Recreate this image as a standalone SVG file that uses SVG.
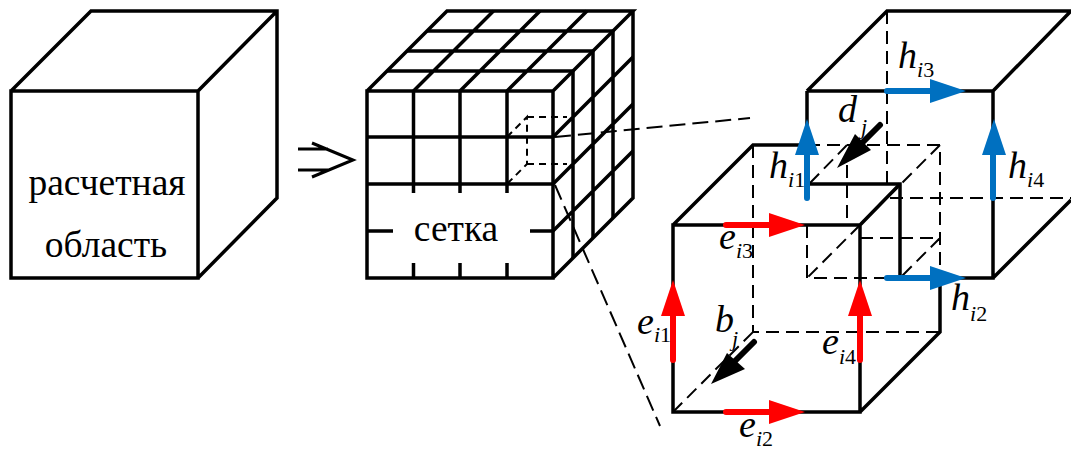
<svg xmlns="http://www.w3.org/2000/svg" width="1071" height="453" viewBox="0 0 1071 453">
<style>
.s{fill:none;stroke:#000;stroke-width:3.5;stroke-linejoin:miter;stroke-linecap:butt}
.d{fill:none;stroke:#000;stroke-width:2;stroke-dasharray:13 7}
.f{fill:none;stroke:#000;stroke-width:2;stroke-dasharray:7 5}
.l{fill:none;stroke:#000;stroke-width:2;stroke-dasharray:16 7}
.t{font-family:"Liberation Serif","Times New Roman",serif;font-size:37.500px;text-anchor:middle;fill:#000}
.i{font-family:"Liberation Serif","Times New Roman",serif;font-size:38px;font-style:italic;fill:#000}
.u{font-size:22px}
.r{fill:none;stroke:#f00;stroke-width:6;stroke-linecap:round}
.b{fill:none;stroke:#0070c0;stroke-width:6;stroke-linecap:round}
.k{fill:none;stroke:#000;stroke-width:6;stroke-linecap:round}
</style>
<g id="domain-cube">
<path class="s" d="M11 91H198V278H11ZM11 91L91 11H277V198L198 278M198 91L277 11"/>
<text class="t" x="107" y="195">расчетная</text>
<text class="t" x="106" y="257">область</text>
</g>
<g id="implies">
<path fill="none" stroke="#000" stroke-width="3" d="M298 149H328M298 170H328M312 143L353 160L312 177"/>
</g>
<g id="grid-cube">
<path class="s" d="M367 91H553V278H367ZM367 184H553M367 137H553M553 91L633 11H447L367 91M553 278L633 198V11"/>
<path class="s" d="M413.500 91V193M460 91V193M507 91V193M413.500 263V278M460 263V278M507 263V278M367 231H393M530 231H553"/>
<path class="s" d="M413.500 91L493.500 11M460 91L540 11M507 91L587 11M387 71H573M407 51H593M427 31H613"/>
<path class="s" d="M573 71V258M593 51V238M613 31V218M553 137L633 57M553 184L633 104M553 231L633 151"/>
<path class="f" d="M507 137L527 117V164L507 184M527 117H567M527 164H567"/>
<text class="t" x="456" y="241">сетка</text>
</g>
<g id="connectors">
<path class="l" d="M555 137L750 118"/>
<path class="l" d="M555 185L660 426"/>
</g>
<g id="magnetic-cell">
<path class="s" d="M807 91H993V278H900V184H810M807 91V184M807 91L887 11H1071M993 91L1071 11M993 278L1071 200"/>
<path class="d" d="M887 11V184M890 198H1071M807 225V278H900"/>
</g>
<g id="electric-cell">
<path class="s" d="M673 225H860V412H673ZM673 225L753 145H807M860 225L900 184M860 412L940 332V285"/>
<path class="d" d="M753 145V332H940M807 145H940V285M940 145L860 225M810 183L847 145M847 165V225M860 238H940L900 278M673 412L753 332M860 225L807 278"/>
</g>
<g id="e-arrows">
<path class="r" d="M673 360V310M860 360V310M726 225H770M726 412H770"/>
<path fill="#f00" d="M661 316L673 280L685 316ZM848 316L860 280L872 316ZM769 213L805 225L769 237ZM769 400L805 412L769 424Z"/>
</g>
<g id="h-arrows">
<path class="b" d="M807 198V150M993 198V150M887 91H930M887 278H930"/>
<path fill="#0070c0" d="M795 155L807 119L819 155ZM982 155L994 119L1006 155ZM930 79L966 91L930 103ZM930 266L966 278L930 290Z"/>
</g>
<g id="flux-arrows">
<path class="k" d="M880 125L862 143M754 342L735 361"/>
<path fill="#000" d="M855 134L871 150L837 168ZM727 353L745 369L711 384Z"/>
</g>
<g id="labels">
<text class="i" x="898" y="68">h<tspan class="u" dy="9">i</tspan><tspan class="u" font-style="normal">3</tspan></text>
<text class="i" x="838" y="122">d</text><text class="i u" x="861" y="134">j</text>
<text class="i" x="769" y="178">h<tspan class="u" dy="9">i</tspan><tspan class="u" font-style="normal">1</tspan></text>
<text class="i" x="1008" y="178">h<tspan class="u" dy="9">i</tspan><tspan class="u" font-style="normal">4</tspan></text>
<text class="i" x="951" y="310">h<tspan class="u" dy="11">i</tspan><tspan class="u" font-style="normal">2</tspan></text>
<text class="i" x="719" y="249">e<tspan class="u" dy="9">i</tspan><tspan class="u" font-style="normal">3</tspan></text>
<text class="i" x="637" y="334">e<tspan class="u" dy="8">i</tspan><tspan class="u" font-style="normal">1</tspan></text>
<text class="i" x="822" y="354">e<tspan class="u" dy="10">i</tspan><tspan class="u" font-style="normal">4</tspan></text>
<text class="i" x="739" y="437">e<tspan class="u" dy="9">i</tspan><tspan class="u" font-style="normal">2</tspan></text>
<text class="i" x="715" y="332">b</text><text class="i u" x="732" y="346">j</text>
</g>
</svg>
